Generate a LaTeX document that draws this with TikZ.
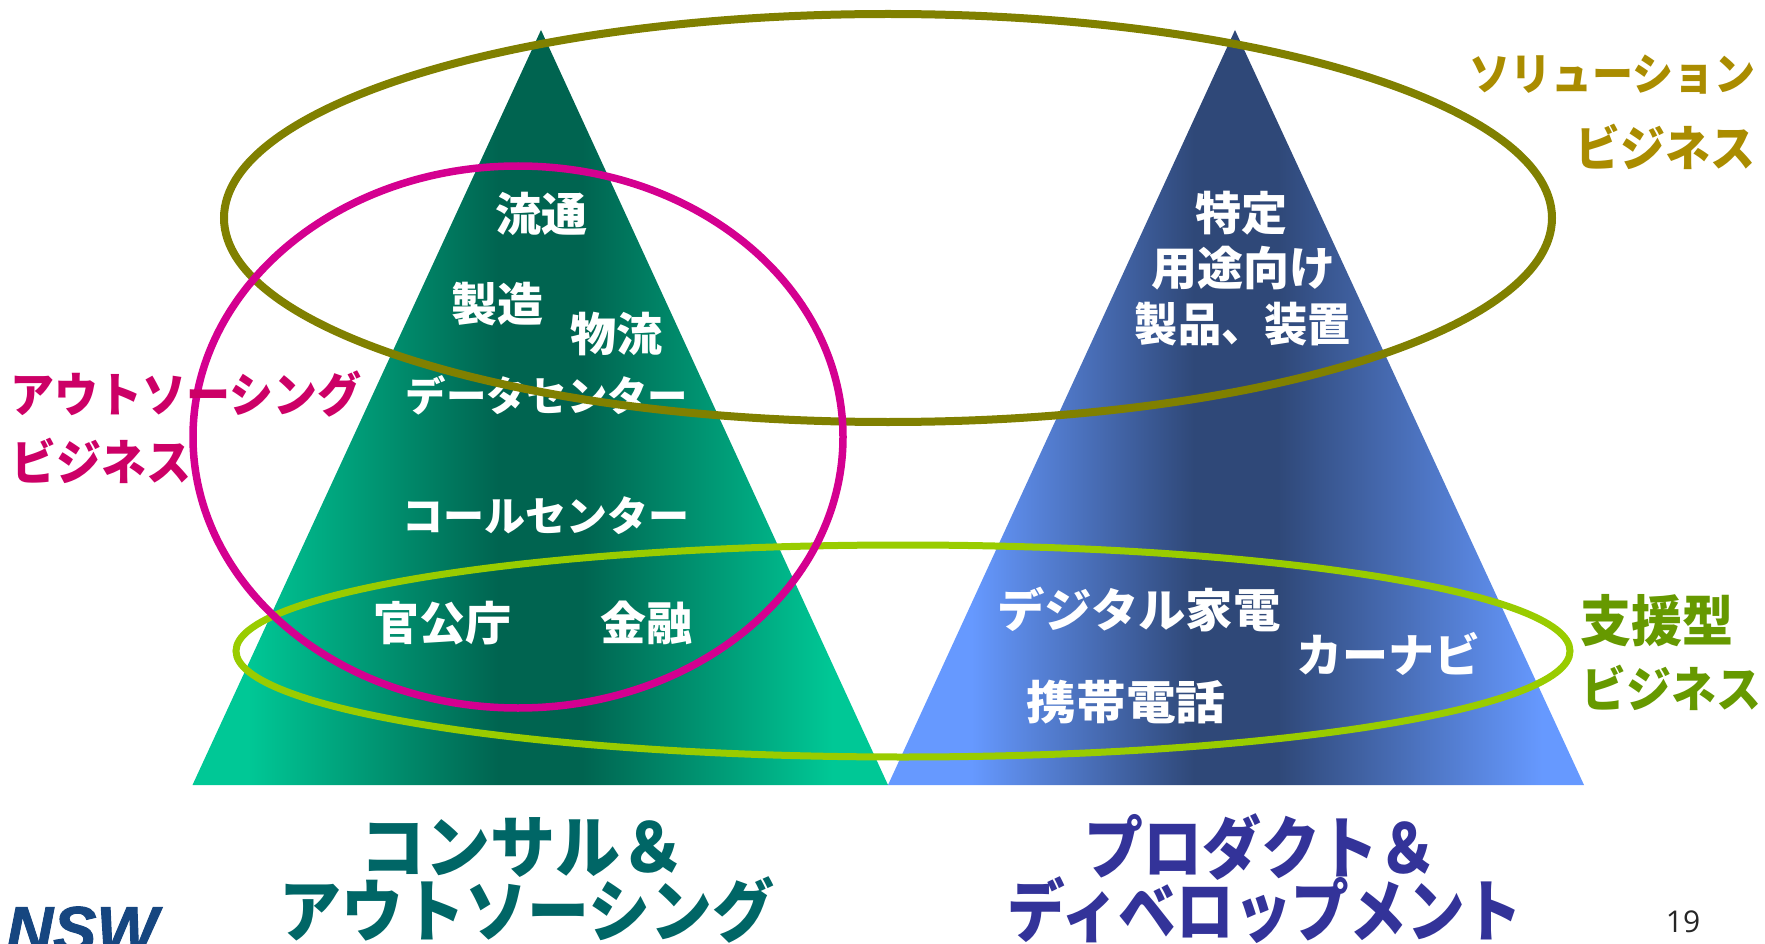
\documentclass[tikz,border=0pt]{standalone}
\usepackage{fontspec}
\setmainfont{Noto Sans CJK JP}
\newfontfamily\latinf{Open Sans}
\newfontfamily\logof[BoldItalicFeatures={FakeBold=1.5}]{Liberation Sans}
\definecolor{gbright}{HTML}{00C896}
\definecolor{gdark}{HTML}{006450}
\definecolor{bbright}{HTML}{6699FF}
\definecolor{bdark}{HTML}{2F4878}
\definecolor{olive}{HTML}{808000}
\definecolor{magen}{HTML}{D40090}
\definecolor{lime}{HTML}{99CC00}
\definecolor{solc}{HTML}{AA8C00}
\definecolor{outc}{HTML}{CC0066}
\definecolor{supc}{HTML}{669900}
\definecolor{teal2}{HTML}{006666}
\definecolor{indigo}{HTML}{333399}
\definecolor{nswc}{HTML}{164680}
\pgfdeclarehorizontalshading{gtri}{100bp}{color(0bp)=(gbright); color(29bp)=(gbright); color(47bp)=(gdark); color(53bp)=(gdark); color(71bp)=(gbright); color(100bp)=(gbright)}
\pgfdeclarehorizontalshading{btri}{100bp}{color(0bp)=(bbright); color(31bp)=(bbright); color(47bp)=(bdark); color(53bp)=(bdark); color(72bp)=(bbright); color(100bp)=(bbright)}
\tikzset{
  kanji/.style={font=\bfseries\fontsize{46}{46}\selectfont,text=white,inner sep=0pt},
  kana/.style={font=\bfseries\fontsize{41}{41}\selectfont,text=white,inner sep=0pt},
  side/.style={font=\bfseries\fontsize{45}{45}\selectfont,inner sep=0pt,anchor=east,transform shape,yscale=1.08},
  titletext/.style={font=\bfseries\fontsize{62}{62}\selectfont,inner sep=0pt,transform shape,yscale=1.1},
}
\begin{document}
\begin{tikzpicture}[x=1pt,y=-1pt]
\useasboundingbox (0,0) rectangle (1765,944);
% triangles
\shade[shading=gtri] (541,30) -- (888,785) -- (192.5,785) -- cycle;
\shade[shading=btri] (1235,30) -- (1584,785) -- (888,785) -- cycle;
% inner texts
\node[kanji] (t1) at (541,214) {流通};
\node[kanji] (t2) at (497,304) {製造};
\node[kanji] (t3) at (616,334) {物流};
\node[kana,transform shape,xscale=.985] (t4) at (547,395) {データセンター};
\node[kana] (t5) at (546,516) {コールセンター};
\node[kanji] (t6) at (442,623) {官公庁};
\node[kanji] (t7) at (646,623) {金融};
\node[kanji] (r1) at (1241,213) {特定};
\node[kanji] (r2) at (1243,268) {用途向け};
\node[kanji,transform shape,xscale=.94] (r3) at (1243,324) {製品、装置};
\node[kanji,transform shape,xscale=1.03] (r4) at (1139,610) {デジタル家電};
\node[kanji] (r5) at (1388,654) {カーナビ};
\node[kanji,transform shape,xscale=1.08] (r6) at (1126,702) {携帯電話};
% ellipses
\draw[olive,line width=8pt] (888,218) ellipse [x radius=664,y radius=204];
\draw[lime,line width=7pt] (903,651) ellipse [x radius=667,y radius=106];
\draw[magen,line width=7.5pt] (518,437) ellipse [x radius=325,y radius=271];
% side labels
\node[side,text=solc,font=\bfseries\fontsize{41}{41}\selectfont] (s1) at (1756,75) {ソリューション};
\node[side,text=solc] (s2) at (1756,147) {ビジネス};
\node[side,text=outc,font=\bfseries\fontsize{44}{44}\selectfont] (o1) at (362,394) {アウトソーシング};
\node[side,text=outc] (o2) at (192,461) {ビジネス};
\node[side,text=supc,font=\bfseries\fontsize{51}{51}\selectfont] (p1) at (1734,621) {支援型};
\node[side,text=supc] (p2) at (1762,688) {ビジネス};
% titles
\node[titletext,text=teal2,xscale=1.05] (a1) at (523,847) {コンサル＆};
\node[titletext,text=teal2] (a2) at (527,910) {アウトソーシング};
\node[titletext,text=indigo,xscale=.95] (b1) at (1261,847) {プロダクト＆};
\node[titletext,text=indigo,xscale=.93] (b2) at (1265,910) {ディベロップメント};
% page number
\node[font=\latinf\fontsize{30}{30}\selectfont,text=black!85,inner sep=0pt] (pg) at (1683,922) {19};
% logo, cut by the page edge
\node[font=\logof\bfseries\itshape\fontsize{65}{65}\selectfont,text=nswc,inner sep=0pt,anchor=base west] (logo) at (6,952) {NSW};
\end{tikzpicture}
\end{document}
